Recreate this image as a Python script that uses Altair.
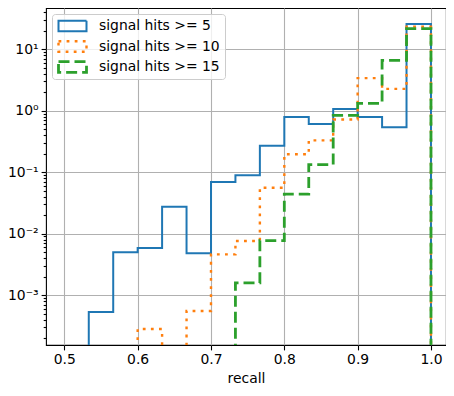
import altair as alt
import numpy as np
import pandas as pd

# bin edges (15 bins from 0.5 to 1.0)
edges = [0.5 + k / 30 for k in range(16)]
series_names = ["signal hits >= 5", "signal hits >= 10", "signal hits >= 15"]
hits5 = [0, 5.3e-4, 5.0e-3, 5.85e-3, 2.75e-2, 4.8e-3, 6.9e-2, 8.9e-2, 0.27, 0.79, 0.61, 1.07, 0.79, 0.54, 25.8]
hits10 = [0, 0, 0, 2.8e-4, 0, 5.5e-4, 4.6e-3, 7.6e-3, 0.056, 0.196, 0.33, 0.72, 3.4, 2.27, 23.4]
hits15 = [0, 0, 0, 0, 0, 0, 0, 1.58e-3, 7.7e-3, 0.044, 0.133, 0.84, 1.32, 6.6, 21.8]
colors = ["#1f77b4", "#ff7f0e", "#2ca02c"]

FLOOR = 1e-9  # stand-in for empty bins on the log axis (clipped away)
rows = []
for name, vals in zip(series_names, [hits5, hits10, hits15]):
    for i, v in enumerate(vals):
        rows.append({"series": name, "x": edges[i], "y": v if v > 0 else FLOOR})
    rows.append({"series": name, "x": edges[-1], "y": FLOOR})
df = pd.DataFrame(rows)

ymin, ymax = 1.54e-4, 47.1
yticks = []
for k in range(-4, 2):
    for m in range(1, 10):
        v = m * 10.0 ** k
        if ymin <= v <= ymax:
            yticks.append(float(f"{v:.10g}"))

MAJ = "abs(log(datum.value)/LN10 - round(log(datum.value)/LN10)) < 0.001"
E = "round(log(datum.value)/LN10)"
label_expr = (
    f"{MAJ} ? ({E}==1 ? '10¹' : {E}==0 ? '10⁰' : {E}==-1 ? '10⁻¹' : "
    f"{E}==-2 ? '10⁻²' : {E}==-3 ? '10⁻³' : '') : ''"
)

FONT = "DejaVu Sans"
FS = 13.9

chart = alt.Chart(df).mark_line(interpolate="step-after", clip=True).encode(
    x=alt.X(
        "x:Q",
        scale=alt.Scale(domain=[0.475, 1.0205], nice=False, zero=False),
        axis=alt.Axis(
            values=[0.5, 0.6, 0.7, 0.8, 0.9, 1.0], format=".1f", title="recall",
            grid=True, gridColor="#b0b0b0", gridWidth=1.1, domain=False,
            tickColor="black", tickWidth=1.1, tickSize=4.9, labelPadding=3,
            labelFont=FONT, labelFontSize=FS, labelColor="black",
            titleFont=FONT, titleFontSize=FS, titleFontWeight="normal",
            titleColor="black", titlePadding=5,
        ),
    ),
    y=alt.Y(
        "y:Q",
        scale=alt.Scale(type="log", domain=[ymin, ymax], nice=False),
        axis=alt.Axis(
            values=yticks, labelExpr=label_expr, title=None,
            grid=True, gridColor="#b0b0b0", gridWidth=1.1,
            gridOpacity={"condition": {"test": MAJ, "value": 1}, "value": 0},
            tickSize={"condition": {"test": MAJ, "value": 4.9}, "value": 2.8},
            domain=False, tickColor="black", tickWidth=1.1, labelPadding=3,
            labelFont=FONT, labelFontSize=FS, labelColor="black", labelFlush=False,
        ),
    ),
    color=alt.Color(
        "series:N",
        scale=alt.Scale(domain=series_names, range=colors),
        legend=alt.Legend(
            title=None, orient="top-left", offset=6, fillColor="rgba(255,255,255,0.8)",
            strokeColor="#cccccc", cornerRadius=3, padding=5,
            symbolType="M-1,-0.38H1V0.38H-1Z", symbolSize=784, clipHeight=14,
            rowPadding=6.5, labelOffset=11, labelFont=FONT, labelFontSize=FS,
            labelColor="black", symbolFillColor="transparent",
        ),
    ),
    strokeDash=alt.StrokeDash(
        "series:N",
        scale=alt.Scale(domain=series_names, range=[[1, 0], [2.8, 5.3], [11, 5]]),
        legend=None,
    ),
    strokeWidth=alt.StrokeWidth(
        "series:N",
        scale=alt.Scale(domain=series_names, range=[2, 2.8, 1.7]),
        legend=None,
    ),
).properties(
    width=400, height=337,
    autosize=alt.AutoSizeParams(type="none"),
    padding={"left": 38, "top": 0, "right": 0, "bottom": 40},
).configure_view(stroke="black", strokeWidth=1.1)

chart.save("out.html", embed_options={"renderer": "svg", "actions": False})
